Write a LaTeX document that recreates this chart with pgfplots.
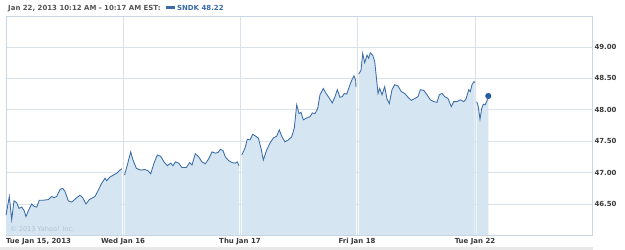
\documentclass[border=0pt]{standalone}
\usepackage{pgfplots}
\usepackage{pgfplotstable}
\pgfplotsset{compat=1.18}
\usepackage{fontspec}
\setmainfont{DejaVu Sans}
\definecolor{lineblue}{HTML}{3A6CA6}
\definecolor{fillblue}{HTML}{D5E5F2}
\definecolor{gridc}{HTML}{D9E2EB}
\definecolor{framec}{HTML}{C9D5E0}
\definecolor{labc}{HTML}{3A3A3A}
\definecolor{titc}{HTML}{555555}
\definecolor{dotc}{HTML}{1F5A99}
\definecolor{copyc}{HTML}{B4C2CE}
\pgfplotsset{
  layers/mylayers/.define layer set={axis background,main,axis grid,axis ticks,axis lines,axis tick labels,axis descriptions,axis foreground}{},
  dayfill/.style={fill=fillblue,draw=none},
  dayline/.style={lineblue,line width=0.85bp,on layer=axis foreground},
}
\pgfplotstableread{
x y
6 46.32
9.3 46.62
11.7 46.25
14 46.55
16.7 46.52
19 46.43
21.7 46.45
24 46.40
26 46.30
28.3 46.39
31.7 46.50
34.3 46.46
36.7 46.45
39.3 46.56
43.3 46.56
48.3 46.57
51.7 46.62
54 46.60
56.7 46.62
60 46.73
62.7 46.75
65 46.70
68.3 46.55
71.7 46.53
76 46.59
80 46.64
82.7 46.60
86 46.50
89.3 46.57
95 46.62
98.3 46.72
101.7 46.83
105 46.91
106.7 46.87
110 46.93
113.3 46.96
116.7 46.99
120 47.04
122 47.06
}\dayA
\pgfplotstableread{
x y
124.5 46.96
127.3 47.12
130.7 47.33
133 47.20
136.3 47.07
138.7 47.05
141.3 47.04
144.7 47.05
148 47.03
150.7 46.98
154 47.15
157.3 47.28
160.7 47.26
164 47.17
167.3 47.11
170.7 47.15
173 47.11
175.3 47.17
178.7 47.15
182 47.08
186.3 47.08
189.7 47.16
192 47.12
195.3 47.30
198.7 47.25
202 47.17
205.3 47.14
208.7 47.22
212 47.33
215.3 47.31
218 47.32
220.3 47.37
223 47.35
225.3 47.25
228.7 47.19
232 47.16
235.3 47.15
237.3 47.17
239 47.11
}\dayB
\pgfplotstableread{
x y
241.8 47.28
245 47.39
247.3 47.53
250 47.52
252.7 47.61
255.7 47.58
258.3 47.55
261 47.39
263.3 47.20
266.7 47.36
270 47.47
273.3 47.55
276.7 47.58
279.3 47.68
281.7 47.58
285 47.49
288.3 47.52
291.7 47.57
294.3 47.71
296.7 48.08
299 47.94
301 47.96
303.3 47.84
306.7 47.87
310 47.89
312.3 47.95
315 47.94
317.7 48.02
320 48.24
323.3 48.34
325.7 48.27
328.3 48.21
332.3 48.11
335 48.21
337.3 48.32
340 48.20
342.3 48.21
344.3 48.26
346.7 48.25
350 48.40
351.7 48.47
354 48.54
355.7 48.47
356 48.36
}\dayC
\pgfplotstableread{
x y
358.8 48.57
361 48.63
362.7 48.90
364.7 48.75
367 48.87
368.7 48.82
370.3 48.91
372.7 48.87
374.7 48.77
377 48.42
378 48.26
379.7 48.34
382 48.24
384.7 48.37
387 48.17
389.3 48.10
392 48.32
394.7 48.40
398 48.38
401.3 48.29
404.7 48.26
408 48.20
411.3 48.15
414.7 48.18
418 48.21
420.3 48.32
423.7 48.31
427 48.24
430.3 48.16
433.7 48.13
437 48.12
439.3 48.24
442 48.26
444.7 48.21
448 48.18
451.3 48.05
453.7 48.13
457 48.13
460.3 48.16
463.7 48.13
466 48.17
468.7 48.32
470.3 48.29
472 48.40
474 48.45
474.5 48.43
}\dayD
\pgfplotstableread{
x y
476.7 48.13
478.3 48.05
480 47.85
481.7 48.02
483.3 48.09
485 48.08
486.7 48.13
488.3 48.22
}\dayE
\begin{document}
\begin{tikzpicture}
\fill[white] (0,0) rectangle (625bp,250bp);
\fill[black!9] (0,0) rectangle (593bp,3bp);
\node[anchor=west,inner sep=0pt,font=\fontsize{7}{8}\selectfont\bfseries,text=titc] at (8bp,241bp)
  {Jan 22, 2013 10:12 AM - 10:17 AM EST:\hspace{5bp}{\color{lineblue}\rule[1.8bp]{9bp}{2.8bp}\hspace{2.5bp}SNDK 48.22}};
\begin{axis}[
  set layers=mylayers,
  at={(6bp,15bp)}, anchor=south west,
  scale only axis, width=586bp, height=219bp,
  xmin=6, xmax=592, ymin=46.006, ymax=49.494,
  axis line style={framec},
  xtick={6,123,240,357,475},
  xticklabels={\makebox[0pt][l]{Tue Jan 15, 2013},Wed Jan 16,Thu Jan 17,Fri Jan 18,Tue Jan 22},
  ytick={46.5,47,47.5,48,48.5,49},
  yticklabel pos=right,
  tick style={draw=none},
  grid=major,
  major grid style={gridc,line width=0.8bp},
  ticklabel style={font=\fontsize{7}{8}\selectfont\bfseries,text=labc},
  xticklabel style={yshift=0bp},
  yticklabel style={anchor=west,xshift=-1bp,/pgf/number format/.cd,fixed,fixed zerofill,precision=2,assume math mode=true},
  clip=false,
]
\addplot[dayfill] table[x=x,y=y] {\dayA} \closedcycle;
\addplot[dayline] table[x=x,y=y] {\dayA};
\addplot[dayfill] table[x=x,y=y] {\dayB} \closedcycle;
\addplot[dayline] table[x=x,y=y] {\dayB};
\addplot[dayfill] table[x=x,y=y] {\dayC} \closedcycle;
\addplot[dayline] table[x=x,y=y] {\dayC};
\addplot[dayfill] table[x=x,y=y] {\dayD} \closedcycle;
\addplot[dayline] table[x=x,y=y] {\dayD};
\addplot[dayfill] table[x=x,y=y] {\dayE} \closedcycle;
\addplot[dayline] table[x=x,y=y] {\dayE};
\addplot[only marks,mark=*,mark size=2.8bp,dotc,on layer=axis foreground] coordinates {(488.3,48.22)};
\node[anchor=south west,inner sep=0pt,font=\fontsize{6.6}{7}\selectfont,text=copyc] at (rel axis cs:0,0) [xshift=4bp,yshift=3bp] {\textcopyright{} 2013 Yahoo! Inc.};
\end{axis}
\end{tikzpicture}
\end{document}
